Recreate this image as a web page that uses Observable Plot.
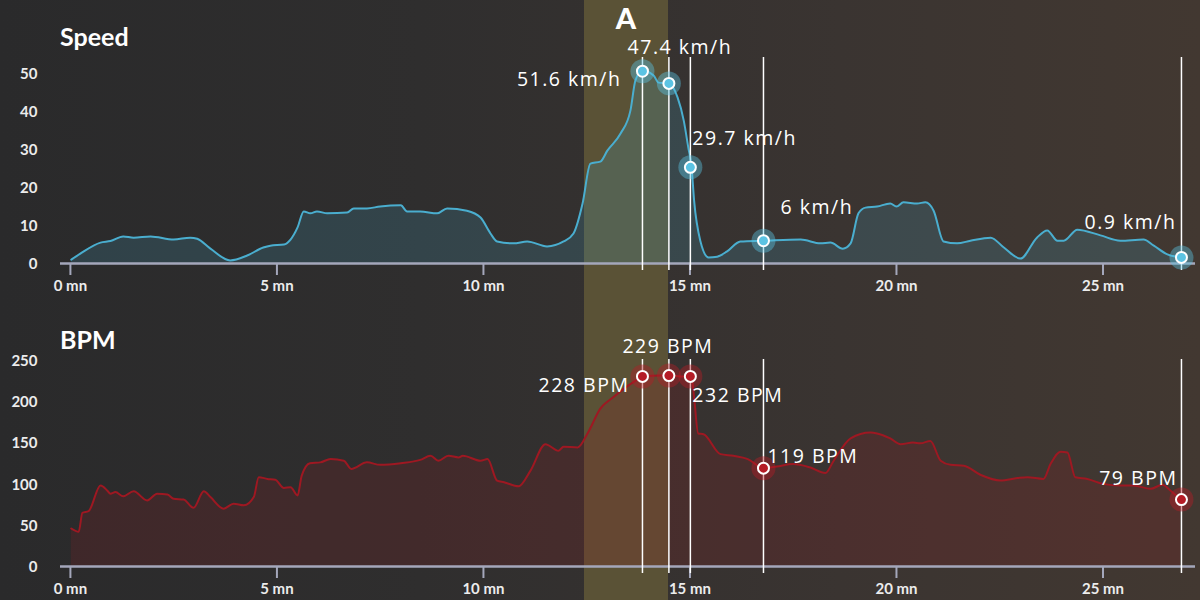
<!DOCTYPE html>
<html>
<head>
<meta charset="utf-8">
<script src="https://cdn.jsdelivr.net/npm/d3@7"></script>
<script src="https://cdn.jsdelivr.net/npm/@observablehq/plot@0.6"></script>
<style>
  html, body { margin: 0; padding: 0; }
  body { width: 1200px; height: 600px; overflow: hidden;
    background: linear-gradient(90deg, #2a2a2b 0%, #2f2e2e 35%, #3a3431 70%, #423831 100%); }
  #wrap { position: relative; width: 1200px; height: 600px; }
  .layer { position: absolute; left: 0; }
  .title { position: absolute; left: 60px; font-family: Lato, sans-serif; font-weight: 700; font-size: 25px; color: #ffffff; line-height: 1; }
  #band { position: absolute; top: 0; height: 600px; background: #5a5236; }
  #bandLabel { position: absolute; top: 3px; font-family: Lato, sans-serif; font-weight: 900; font-size: 29px; color: #ffffff; text-align: center; line-height: 1; }
</style>
</head>
<body>
<div id="wrap">
  <div id="band"></div>
  <div id="bandLabel"></div>
  <div class="layer" id="speedChart" style="top:0"></div>
  <div class="layer" id="bpmChart" style="top:300px"></div>
  <div class="title" id="speedTitle" style="top:24px"></div>
  <div class="title" id="bpmTitle" style="top:327px"></div>
</div>
<script>
// ---------- data ----------
const speedTitle = "Speed";
const bpmTitle = "BPM";
const xTicks = [0, 5, 10, 15, 20, 25];
const xTickUnit = "mn";
const speedTicks = [0, 10, 20, 30, 40, 50];
const bpmTicks = [0, 50, 100, 150, 200, 250];

const bandStart = 12.45;
const bandEnd = 14.48;
const bandLabel = "A";

const speedTime = [0.02,0.24,0.73,0.97,1.28,1.53,1.94,2.5,2.9,3.07,3.39,3.87,4.28,4.67,4.84,5.17,5.33,5.5,5.65,5.81,5.97,6.22,6.7,6.86,7.18,7.5,8.0,8.15,8.47,8.88,9.12,9.6,9.93,10.17,10.33,10.73,11.06,11.54,11.94,12.18,12.4,12.59,12.83,13.0,13.32,13.56,13.68,13.85,14.12,14.24,14.48,14.7,14.85,14.96,15.04,15.1,15.25,15.45,15.66,15.9,16.22,16.78,17.68,18.16,18.4,18.7,18.89,19.08,19.25,19.53,19.85,20.0,20.17,20.5,20.7,20.9,21.14,21.47,21.79,22.28,22.6,23.0,23.4,23.65,23.9,24.05,24.38,24.94,25.42,25.98,26.23,26.56,26.88];
const speedValue = [1.0,2.6,5.5,5.9,7.1,6.8,7.1,6.3,6.8,6.5,3.9,0.8,2.1,4.2,4.7,5.0,6.3,9.5,13.7,13.2,13.7,13.2,13.4,14.5,14.5,15.0,15.3,13.7,13.7,13.2,14.5,13.9,12.1,7.9,5.8,5.3,5.8,4.5,5.8,7.9,15.8,26.3,26.8,29.7,34.2,40.3,48.2,50.8,49.5,47.6,47.4,43.7,37.6,30.5,25.3,16.6,6.0,1.6,1.8,3.2,5.8,6.0,6.3,5.3,5.5,3.9,5.3,13.2,14.7,15.0,15.8,15.0,16.1,15.8,16.1,13.9,5.8,5.3,6.0,6.8,4.2,1.3,6.8,8.7,6.0,6.0,8.9,7.4,6.0,6.3,4.7,2.4,1.6];

const bpmTime = [0.02,0.2,0.29,0.44,0.73,0.89,0.97,1.09,1.28,1.53,1.86,2.1,2.35,2.5,2.74,2.98,3.23,3.39,3.71,3.95,4.2,4.44,4.56,4.77,4.96,5.17,5.33,5.5,5.6,5.8,6.05,6.3,6.62,6.8,7.18,7.5,8.0,8.47,8.72,8.91,9.15,9.4,9.5,9.93,10.1,10.33,10.5,10.85,11.14,11.5,11.82,11.94,12.28,12.52,12.83,13.15,13.63,13.87,14.28,14.5,14.77,15.04,15.1,15.2,15.33,15.74,16.05,16.4,16.78,17.1,17.5,17.9,18.28,18.48,18.89,19.37,19.53,19.85,20.1,20.4,20.58,20.82,21.07,21.31,21.63,22.03,22.52,22.93,23.17,23.56,23.73,23.97,24.14,24.33,24.62,25.0,25.42,25.74,26.15,26.44,26.63,26.88];
const bpmValue = [46,42,65,67,98,92,88,90,85,91,80,88,87,82,81,71,91,84,70,76,74,84,108,106,105,95,96,86,110,125,126,130,128,118,126,123,125,129,134,128,134,132,134,128,130,104,102,97,116,148,140,145,144,161,191,205,223,230,231,231,230,230,205,161,160,136,134,130,119,121,124,120,113,128,155,162,161,155,148,150,149,152,128,123,122,111,104,107,108,106,124,139,138,108,106,100,98,98,94,99,92,81];

const markerTime = [13.85, 14.49, 15.01, 16.78, 26.9];
const speedMarkerValue = [50.6, 47.4, 25.3, 6.0, 1.6];
const speedMarkerLabel = ["51.6 km/h", "47.4 km/h", "29.7 km/h", "6 km/h", "0.9 km/h"];
const bpmMarkerValue = [230, 231, 230, 119, 81];
const bpmMarkerLabel = ["228 BPM", "229 BPM", "232 BPM", "119 BPM", "79 BPM"];

// ---------- tables ----------
const speedData = speedTime.map((t, i) => ({t, v: speedValue[i]}));
const bpmData = bpmTime.map((t, i) => ({t, v: bpmValue[i]}));
const speedMarkers = markerTime.map((t, i) => ({t, v: speedMarkerValue[i], label: speedMarkerLabel[i], i}));
const bpmMarkers = markerTime.map((t, i) => ({t, v: bpmMarkerValue[i], label: bpmMarkerLabel[i], i}));

// ---------- styling (not data) ----------
const axisColor = "#a4a7bb";
const xDomain = [-0.24, 27.24];
const tickFont = {fill: "#ececec", fontSize: 15, fontWeight: 700, fontFamily: "Lato, sans-serif"};
const speedPlace = [
  {textAnchor: "end", dx: -21, dy: 9},
  {textAnchor: "middle", dx: 11, dy: -35.5},
  {textAnchor: "start", dx: 2, dy: -28.5},
  {textAnchor: "start", dx: 17, dy: -32.5},
  {textAnchor: "end", dx: -5, dy: -35}
];
const bpmPlace = [
  {textAnchor: "end", dx: -13, dy: 9},
  {textAnchor: "middle", dx: -1, dy: -29},
  {textAnchor: "start", dx: 2, dy: 19},
  {textAnchor: "start", dx: 4, dy: -11},
  {textAnchor: "end", dx: -4, dy: -21}
];

function chart({data, markers, place, yDomain, yTicks, marginTop, marginBottom, lineColor, fillColor, fillOpacity, dotColor, haloOpacity, ruleInsetTop}) {
  const svg = Plot.plot({
    width: 1200,
    height: 300,
    marginLeft: 60,
    marginRight: 5,
    marginTop,
    marginBottom,
    style: {background: "transparent", color: "#ececec", fontFamily: "Lato, sans-serif", overflow: "visible"},
    x: {domain: xDomain},
    y: {domain: yDomain, axis: null},
    marks: [
      Plot.areaY(data, {x: "t", y: "v", fill: fillColor, fillOpacity, curve: "monotone-x"}),
      Plot.lineY(data, {x: "t", y: "v", stroke: lineColor, strokeWidth: 2, curve: "monotone-x"}),
      Plot.ruleY([0], {stroke: axisColor, strokeWidth: 2.5}),
      // tick marks from the axis; the labels are drawn below as text marks
      Plot.axisX({ticks: xTicks, tickFormat: () => "", tickSize: 12, stroke: axisColor, strokeWidth: 2, label: null}),
      Plot.text(xTicks, {x: d => d, y: yDomain[0], text: d => `${d} ${xTickUnit}`, lineAnchor: "top", dy: 17, ...tickFont}),
      Plot.text(yTicks, {y: d => d, frameAnchor: "left", text: d => `${d}`, textAnchor: "end", dx: -23, dy: 1, ...tickFont}),
      Plot.ruleX(markers, {x: "t", stroke: "#ffffff", strokeWidth: 1.5, insetTop: ruleInsetTop, insetBottom: -7}),
      Plot.dot(markers, {x: "t", y: "v", r: 12, fill: dotColor, fillOpacity: haloOpacity, stroke: null}),
      Plot.dot(markers, {x: "t", y: "v", r: 5.5, fill: dotColor, stroke: "#ffffff", strokeWidth: 2}),
      ...place.map((p, k) => Plot.text(markers.filter(d => d.i === k), {
        x: "t", y: "v", text: "label", fill: "#ffffff", fontSize: 19.5,
        fontFamily: "'Open Sans', sans-serif", fontWeight: "normal", ...p
      }))
    ]
  });
  svg.querySelectorAll("text").forEach(t => {
    if (t.textContent.includes("km/h") || t.textContent.includes("BPM")) t.style.letterSpacing = "1.5px";
  });
  return svg;
}

const speedPlot = chart({
  data: speedData, markers: speedMarkers, place: speedPlace,
  yDomain: [0, 55], yTicks: speedTicks, marginTop: 54, marginBottom: 37,
  lineColor: "#4aaecf", fillColor: "#4aaccc", fillOpacity: 0.18, dotColor: "#5bc3e3", haloOpacity: 0.42, ruleInsetTop: 3
});
const bpmPlot = chart({
  data: bpmData, markers: bpmMarkers, place: bpmPlace,
  yDomain: [0, 265], yTicks: bpmTicks, marginTop: 47, marginBottom: 34,
  lineColor: "#9e1822", fillColor: "#8f1c24", fillOpacity: 0.2, dotColor: "#b51c26", haloOpacity: 0.42, ruleInsetTop: 12
});

document.getElementById("speedChart").appendChild(speedPlot);
document.getElementById("bpmChart").appendChild(bpmPlot);
document.getElementById("speedTitle").textContent = speedTitle;
document.getElementById("bpmTitle").textContent = bpmTitle;

const sx = speedPlot.scale("x");
const bx0 = sx.apply(bandStart), bx1 = sx.apply(bandEnd);
const band = document.getElementById("band");
band.style.left = bx0 + "px";
band.style.width = (bx1 - bx0) + "px";
const bl = document.getElementById("bandLabel");
bl.textContent = bandLabel;
bl.style.left = bx0 + "px";
bl.style.width = (bx1 - bx0) + "px";
</script>
</body>
</html>
